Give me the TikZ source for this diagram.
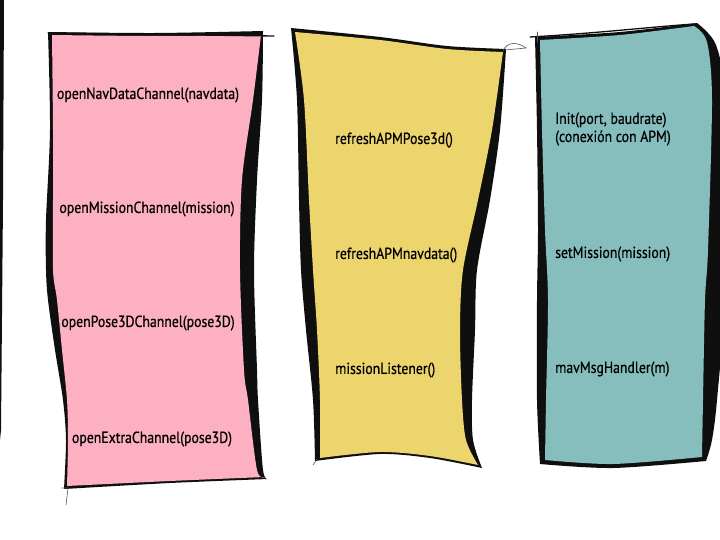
\documentclass[tikz,border=0pt]{standalone}
\usepackage{fontspec}
\setmainfont[FakeStretch=0.86, FakeBold=0.6]{PT Sans}
\definecolor{pinkpanel}{RGB}{252,176,194}
\definecolor{yellowpanel}{RGB}{236,213,108}
\definecolor{tealpanel}{RGB}{134,190,190}
\definecolor{ink}{RGB}{15,15,15}

\begin{document}
\begin{tikzpicture}[x=1pt, y=-1pt,
		edge/.style={draw=ink, line width=1.3pt, line cap=round},
		hair/.style={draw=ink!70, line width=0.6pt, line cap=round},
		call/.style={font=\fontsize{16}{18}\selectfont, inner sep=0pt, text=black}]
	\useasboundingbox (0,0) rectangle (720,540);
	\fill[ink] (0,0) -- (4,0) -- (3,200) -- (1,430) -- (0,440) -- cycle;

	\fill[ink] plot[smooth] coordinates {(48,32) (155,33) (263,31)}
		-- plot[smooth] coordinates {(263,31) (262,100) (257,180) (254,270) (257,370) (258,400) (263,470) (268,479)}
		-- plot[smooth] coordinates {(268,479) (170,483) (64,489)}
		-- plot[smooth] coordinates {(64,489) (66,440) (63,400) (55,350) (48,300) (46,270) (46,220) (50,130) (48,32)} -- cycle;
	\fill[pinkpanel] plot[smooth] coordinates {(52,35) (155,36) (261,35)}
		-- plot[smooth] coordinates {(261,35) (253,100) (242,180) (240,270) (244,370) (248,400) (257,470) (265,477)}
		-- plot[smooth] coordinates {(265,477) (170,481) (67,486)}
		-- plot[smooth] coordinates {(67,486) (68,440) (67,400) (62,350) (57,300) (53,270) (53,200) (53,130) (52,35)} -- cycle;
	\draw[edge] (48,33) -- (274,36);
	\draw[hair] (62,488) -- (68,488) -- (66,505);

	\fill[ink] plot[smooth] coordinates {(291,28) (380,37) (447,46) (506,49)}
		-- plot[smooth] coordinates {(506,49) (500,130) (490,200) (477,270) (475,330) (472,400) (473,440) (482,468)}
		-- plot[smooth] coordinates {(482,468) (430,458) (380,454) (315,461)}
		-- plot[smooth] coordinates {(315,461) (313,400) (306,330) (301,270) (299,200) (297,100) (291,28)} -- cycle;
	\fill[yellowpanel] plot[smooth] coordinates {(295,32) (380,40) (447,49) (503,52)}
		-- plot[smooth] coordinates {(503,52) (492,130) (478,200) (463,270) (460,330) (462,400) (466,440) (478,465)}
		-- plot[smooth] coordinates {(478,465) (430,456) (380,452) (320,458)}
		-- plot[smooth] coordinates {(320,458) (320,400) (317,330) (313,270) (309,200) (304,100) (295,32)} -- cycle;
	\draw[hair] (503,51) .. controls (507,41) and (518,42) .. (526,48) -- (505,50);
	\draw[hair] (317,459) -- (313,465);

	\fill[ink] plot[smooth] coordinates {(535,37) (620,32) (697,23)}
		-- plot[smooth] coordinates {(697,23) (716,45) (724,100) (724,300) (717,400) (712,440) (706,461)}
		-- plot[smooth] coordinates {(706,461) (613,468) (540,464)}
		-- plot[smooth] coordinates {(540,464) (537,400) (537,300) (538,230) (537,130) (535,37)} -- cycle;
	\fill[tealpanel] plot[smooth] coordinates {(540,40) (620,35) (694,26)}
		-- plot[smooth] coordinates {(694,26) (707,42) (712,100) (708,250) (705,300) (703,400) (702,457)}
		-- plot[smooth] coordinates {(702,457) (613,464) (545,460)}
		-- plot[smooth] coordinates {(545,460) (546,400) (548,300) (545,230) (542,130) (540,40)} -- cycle;
	\draw[edge] (530,37) .. controls (600,33) and (650,27) .. (694,24);
	\draw[hair] (537,32) -- (537,42);

	\node[call] (nav)at(148, 95) {openNavDataChannel(navdata)};
	\node[call] (mission)at(147, 209) {openMissionChannel(mission)};
	\node[call] (pose)at(148, 323) {openPose3DChannel(pose3D)};
	\node[call] (extra)at(152, 439) {openExtraChannel(pose3D)};
	\node[call, anchor=west] (refpose)at(335, 140) {refreshAPMPose3d()};
	\node[call, anchor=west] (refnav)at(335, 255) {refreshAPMnavdata()};
	\node[call, anchor=west] (listener)at(335, 370) {missionListener()};
	\node[call, anchor=west, align=left] (init)at(555, 129) {Init(port, baudrate)\\(conexión con APM)};
	\node[call, anchor=west] (setmission)at(555, 254) {setMission(mission)};
	\node[call, anchor=west] (handler)at(555, 369) {mavMsgHandler(m)};
\end{tikzpicture}
\end{document}
